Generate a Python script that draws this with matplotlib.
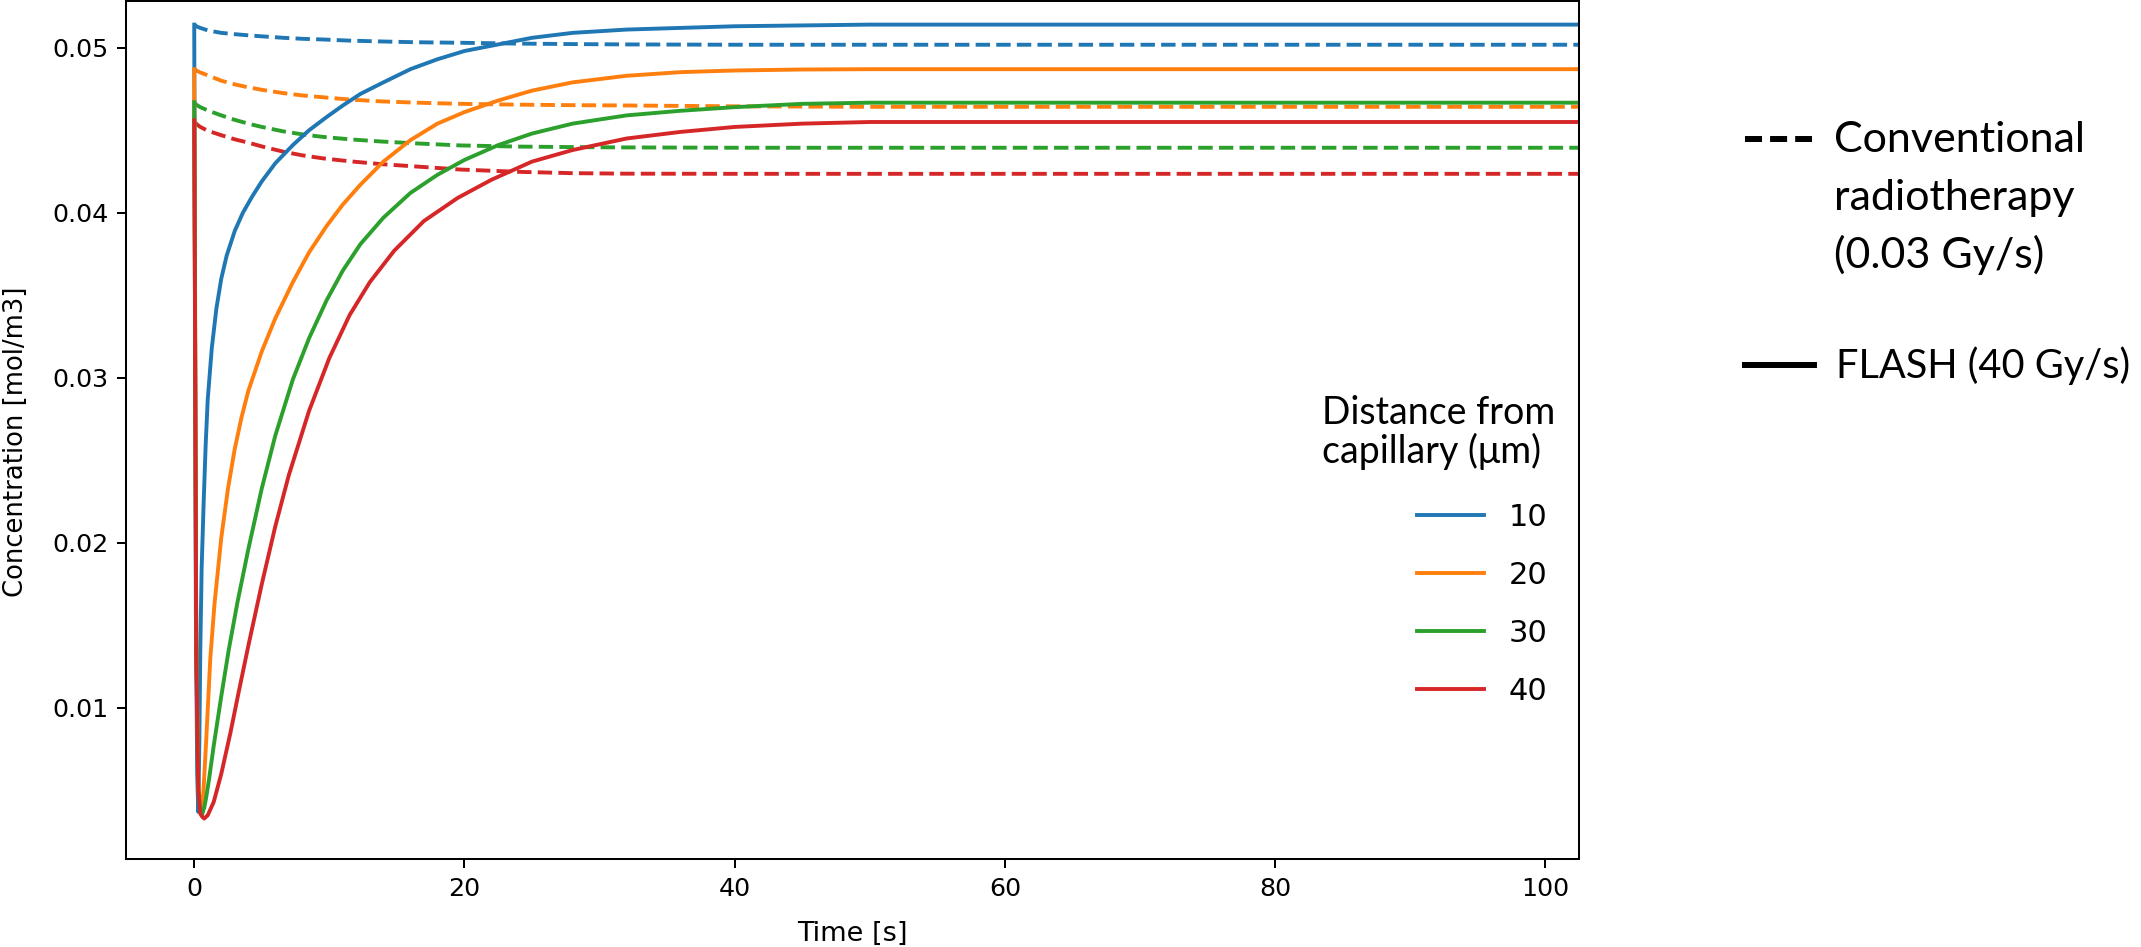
import matplotlib
matplotlib.use("Agg")
import matplotlib.pyplot as plt
from matplotlib.lines import Line2D

# distances from the capillary (um) and line colours
distances = ['10', '20', '30', '40']
colors = ['#1f77b4', '#ff7f0e', '#2ca02c', '#d62728']

# FLASH (40 Gy/s): time [s] and concentration [mol/m3]
t_flash_10 = [0, 0.04, 0.12, 0.22, 0.3, 0.38, 0.45, 0.55, 0.7, 0.85, 1.0, 1.3, 1.64, 2.0, 2.4, 3.0,
              3.6, 4.3, 5.0, 6.0, 7.3, 8.5, 9.8, 11, 12.3, 14, 16, 18, 20, 22.5, 25, 28, 32, 36,
              40, 45, 50, 102.5]
c_flash_10 = [0.0514, 0.040, 0.016, 0.006, 0.0037, 0.0080, 0.0135, 0.0185, 0.0225, 0.0260, 0.0287,
              0.0318, 0.0342, 0.0360, 0.0374, 0.0389, 0.0400, 0.0410, 0.0419, 0.0430, 0.0441,
              0.0450, 0.0458, 0.0465, 0.0472, 0.0479, 0.0487, 0.0493, 0.0498, 0.0502, 0.0506,
              0.0509, 0.0511, 0.0512, 0.0513, 0.05135, 0.0514, 0.0514]

t_flash_20 = [0, 0.05, 0.15, 0.3, 0.45, 0.57, 0.7, 0.89, 1.19, 1.5, 2.0, 2.5, 3.0, 3.5, 4.0, 5.0,
              6.0, 7.3, 8.5, 9.8, 11, 12.3, 14, 16, 18, 20, 22.5, 25, 28, 32, 36, 40, 45, 50, 102.5]
c_flash_20 = [0.0487, 0.038, 0.015, 0.0055, 0.0038, 0.0036, 0.0052, 0.0081, 0.0130, 0.0163, 0.0203,
              0.0233, 0.0257, 0.0276, 0.0292, 0.0316, 0.0336, 0.0358, 0.0376, 0.0392, 0.0405,
              0.0417, 0.0431, 0.0444, 0.0454, 0.0461, 0.0468, 0.0474, 0.0479, 0.0483, 0.04852,
              0.04862, 0.04868, 0.0487, 0.0487]

t_flash_30 = [0, 0.05, 0.15, 0.3, 0.45, 0.57, 0.75, 0.89, 1.1, 1.44, 2.0, 2.55, 3.2, 4.0, 5.0, 6.0,
              7.3, 8.5, 9.8, 11, 12.3, 14, 16, 18, 20, 22.5, 25, 28, 32, 36, 40, 45, 50, 102.5]
c_flash_30 = [0.0467, 0.036, 0.014, 0.005, 0.0037, 0.0035, 0.0040, 0.0046, 0.0057, 0.0077, 0.0107,
              0.0135, 0.0164, 0.0196, 0.0233, 0.0265, 0.0299, 0.0324, 0.0347, 0.0365, 0.0381,
              0.0397, 0.0412, 0.0423, 0.0432, 0.0441, 0.0448, 0.0454, 0.0459, 0.04618, 0.0464,
              0.0466, 0.04667, 0.04667]

t_flash_40 = [0, 0.05, 0.15, 0.3, 0.45, 0.6, 0.74, 1.0, 1.44, 2.0, 2.68, 3.3, 4.04, 5.0, 6.0, 7.0,
              8.5, 10, 11.5, 13, 14.8, 17, 19.5, 22, 25, 28, 32, 36, 40, 45, 50, 102.5]
c_flash_40 = [0.0456, 0.035, 0.013, 0.0050, 0.0036, 0.0034, 0.0033, 0.0035, 0.0043, 0.0060, 0.0085,
              0.0110, 0.0139, 0.0175, 0.0210, 0.0241, 0.0280, 0.0312, 0.0338, 0.0358, 0.0377,
              0.0395, 0.0409, 0.0420, 0.0431, 0.0438, 0.0445, 0.0449, 0.0452, 0.0454, 0.0455,
              0.0455]

# conventional radiotherapy (0.03 Gy/s)
t_conv = [0, 0.2, 0.45, 1, 2, 3, 4, 5, 6.6, 8, 9.5, 11.5, 13.8, 16.5, 19.7, 24, 28, 32, 40, 50,
          102.5]
c_conv_10 = [0.0514, 0.05128, 0.0512, 0.05105, 0.0509, 0.05082, 0.05075, 0.05069, 0.0506, 0.05054,
             0.0505, 0.05043, 0.05038, 0.05033, 0.0503, 0.05025, 0.05022, 0.0502, 0.05018,
             0.05018, 0.05018]
c_conv_20 = [0.0487, 0.0486, 0.0485, 0.04833, 0.0480, 0.04778, 0.0476, 0.04745, 0.04725, 0.04711,
             0.0470, 0.04686, 0.04675, 0.04667, 0.0466, 0.04655, 0.04652, 0.0465, 0.04645,
             0.04642, 0.04642]
c_conv_30 = [0.04667, 0.04652, 0.0464, 0.0462, 0.0459, 0.04563, 0.0454, 0.0452, 0.04493, 0.04475,
             0.0446, 0.04445, 0.04432, 0.0442, 0.04408, 0.04401, 0.04398, 0.04396, 0.04394,
             0.04394, 0.04394]
c_conv_40 = [0.04552, 0.04535, 0.0452, 0.04497, 0.0447, 0.04445, 0.04425, 0.04402, 0.0437, 0.04348,
             0.0433, 0.04312, 0.04295, 0.0428, 0.04262, 0.04248, 0.0424, 0.04237, 0.04236,
             0.04236, 0.04236]

flash = [(t_flash_10, c_flash_10), (t_flash_20, c_flash_20),
         (t_flash_30, c_flash_30), (t_flash_40, c_flash_40)]
conv = [c_conv_10, c_conv_20, c_conv_30, c_conv_40]

W, H = 2141, 947


def fx(x):
    return x / W


def fy(y):
    return 1 - y / H


fig = plt.figure(figsize=(W / 100, H / 100), dpi=100)
ax = fig.add_axes([fx(126), fy(859), (1579 - 126) / W, (859 - 1.5) / H])

lw = 2.8
for c, col in zip(conv, colors):
    ax.plot(t_conv, c, '--', color=col, lw=lw)
flash_lines = []
for (t, c), col in zip(flash, colors):
    line, = ax.plot(t, c, '-', color=col, lw=lw)
    flash_lines.append(line)

ax.set_xlim(-5.05, 102.5)
ax.set_ylim(0.00085, 0.0528)
ax.set_xticks([0, 20, 40, 60, 80, 100])
ax.set_yticks([0.01, 0.02, 0.03, 0.04, 0.05])
ax.tick_params(length=6.4, width=1.45, pad=6.4, labelsize=18.3)
for s in ax.spines.values():
    s.set_linewidth(1.45)

ax.set_xlabel('Time [s]', fontsize=19.5)
ax.set_ylabel('Concentration [mol/m3]', fontsize=18.6)
ax.xaxis.set_label_coords(0.5, -0.072)
ax.yaxis.set_label_coords(-0.067, 0.487)

ax.legend(flash_lines, distances, loc='upper left',
          bbox_to_anchor=(fx(1417), fy(503)), bbox_transform=fig.transFigure,
          frameon=False, fontsize=22, handlelength=2.2, handletextpad=0.8,
          labelspacing=0.95, borderpad=0, borderaxespad=0)

# legend title and line-style key
font = ['Lato', 'DejaVu Sans']
fig.text(fx(1322), fy(424), 'Distance from', family=font, fontsize=27, va='baseline')
fig.text(fx(1322), fy(463), 'capillary (\u03bcm)', family=font, fontsize=27, va='baseline')

key_lw = 4.3
fig.add_artist(Line2D([fx(1745), fx(1812)], [fy(139), fy(139)], color='black', lw=key_lw,
                      linestyle=(0, (2.85, 1.35))))
fig.add_artist(Line2D([fx(1745), fx(1814)], [fy(365), fy(365)], color='black', lw=key_lw))
fig.text(fx(1834), fy(152), 'Conventional', family=font, fontsize=31, va='baseline')
fig.text(fx(1834), fy(210), 'radiotherapy', family=font, fontsize=31, va='baseline')
fig.text(fx(1834), fy(268), '(0.03 Gy/s)', family=font, fontsize=31, va='baseline')
fig.text(fx(1836), fy(378), 'FLASH (40 Gy/s)', family=font, fontsize=28.6, va='baseline')

fig.savefig('out.png', dpi=100)
